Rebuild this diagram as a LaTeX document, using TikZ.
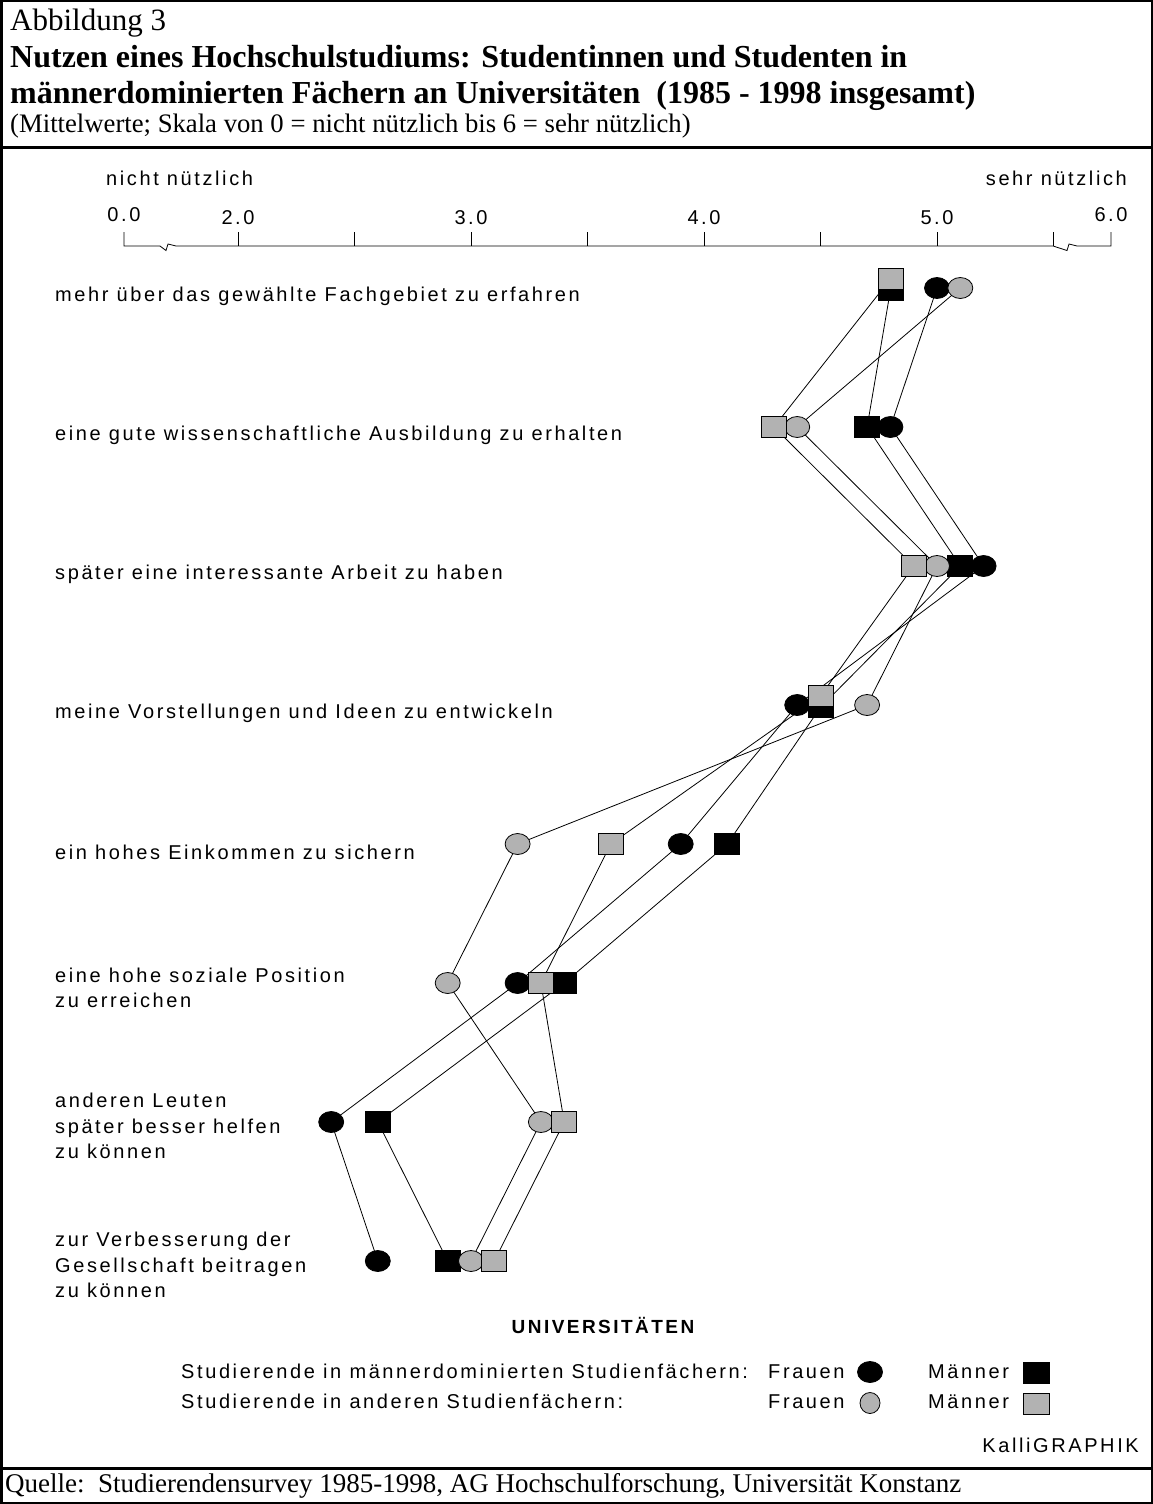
\documentclass[tikz,border=0pt]{standalone}
\usepackage{fontspec}
\setmainfont{Liberation Serif}
\newfontfamily\lblfont[LetterSpace=13]{Liberation Sans}
\usepackage{tikz}
\usetikzlibrary{shapes.geometric,backgrounds}
\definecolor{markgray}{gray}{0.7}

\tikzset{
  fem/.style={ellipse, draw, line width=0.8pt, minimum width=25pt, minimum height=21pt, inner sep=0pt},
  mal/.style={rectangle, draw, line width=0.8pt, minimum width=25pt, minimum height=21pt, inner sep=0pt},
  dom/.style={fill=black},
  oth/.style={fill=markgray},
  link/.style={line width=0.8pt},
  lbl/.style={font=\lblfont\fontsize{20}{25.5}\selectfont, anchor=west, inner sep=0pt, align=left},
  tick/.style={font=\lblfont\fontsize{20}{24}\selectfont, anchor=base, inner sep=0pt},
  head/.style={anchor=base west, inner sep=0pt}
}

\begin{document}
\begin{tikzpicture}[x=1pt,y=-1pt]
\useasboundingbox (0,0) rectangle (1153,1504);
\draw[line width=2.5pt] (1.25,1.25) rectangle (1151.75,1502.75);
\draw[line width=3pt] (0,147) -- (1153,147);
\draw[line width=3pt] (0,1468) -- (1153,1468);

\node[head, font=\fontsize{31}{36}\selectfont] (fig) at (10,31) {Abbildung 3};
\node[head, font=\fontsize{32}{36}\selectfont\bfseries] (title1) at (10,67) {Nutzen eines Hochschulstudiums: Studentinnen und Studenten in};
\node[head, font=\fontsize{32}{36}\selectfont\bfseries] (title2) at (10,103) {männerdominierten Fächern an Universitäten\ \ (1985 - 1998 insgesamt)};
\node[head, font=\fontsize{26.7}{30}\selectfont] (sub) at (10,132) {(Mittelwerte; Skala von 0 = nicht nützlich bis 6 = sehr nützlich)};
\node[head, font=\fontsize{27}{30}\selectfont] (src) at (5,1492) {Quelle:\ \ Studierendensurvey 1985-1998, AG Hochschulforschung, Universität Konstanz};

\node[tick, anchor=base west] (low) at (106,185) {nicht nützlich};
\node[tick, anchor=base east] (high) at (1127,185) {sehr nützlich};
\draw[line width=0.8pt] (124,232) -- (124,246) -- (160,246) -- (166,250.5) -- (168,244) -- (176,246) -- (1053,246) -- (1067,250.5) -- (1069,244) -- (1077,246) -- (1111,246) -- (1111,232);
\foreach \v in {2,2.5,3,3.5,4,4.5,5,5.5}
  \draw[line width=0.8pt] ({238+(\v-2)*233},232) -- ++(0,14);
\node[tick] (t0) at (124,221.5) {0.0};
\foreach \v in {2,3,4,5}
  \node[tick] (t\v) at ({238+(\v-2)*233},224.5) {\v.0};
\node[tick] (t6) at (1111,221.5) {6.0};

\node[lbl] (q1) at (55,296) {mehr über das gewählte Fachgebiet zu erfahren};
\node[lbl] (q2) at (55,435) {eine gute wissenschaftliche Ausbildung zu erhalten};
\node[lbl] (q3) at (55,574) {später eine interessante Arbeit zu haben};
\node[lbl] (q4) at (55,713) {meine Vorstellungen und Ideen zu entwickeln};
\node[lbl] (q5) at (55,852) {ein hohes Einkommen zu sichern};
\node[lbl] (q6) at (55,988) {eine hohe soziale Position\\zu erreichen};
\node[lbl] (q7) at (55,1126) {anderen Leuten\\später besser helfen\\zu können};
\node[lbl] (q8) at (55,1265) {zur Verbesserung der\\Gesellschaft beitragen\\zu können};

\foreach \r/\yy/\domf/\domm/\othf/\othm/\up in {1/288/5.0/4.8/5.1/4.8/9, 2/427/4.8/4.7/4.4/4.3/0, 3/566/5.2/5.1/5.0/4.9/0, 4/705/4.4/4.5/4.7/4.5/9, 5/844/3.9/4.1/3.2/3.6/0, 6/983/3.2/3.4/2.9/3.3/0, 7/1122/2.4/2.6/3.3/3.4/0, 8/1261/2.6/2.9/3.0/3.1/0} {
  \node[fem, dom] (domf\r) at ({238+(\domf-2)*233},\yy) {};
  \node[mal, dom] (domm\r) at ({238+(\domm-2)*233},{\yy+\up*0.25}) {};
  \node[fem, oth] (othf\r) at ({238+(\othf-2)*233},\yy) {};
  \node[mal, oth] (othm\r) at ({238+(\othm-2)*233},{\yy-\up}) {};
}
\begin{pgfonlayer}{background}
\foreach \s in {domf,domm,othf,othm}
  \draw[link] (\s1.center) -- (\s2.center) -- (\s3.center) -- (\s4.center) -- (\s5.center) -- (\s6.center) -- (\s7.center) -- (\s8.center);
\end{pgfonlayer}

\node[tick, font=\lblfont\bfseries\fontsize{19}{22}\selectfont] (uni) at (603,1333) {UNIVERSITÄTEN};
\node[tick, anchor=base west] (legdom) at (181,1378) {Studierende in männerdominierten Studienfächern:};
\node[tick, anchor=base west] (legoth) at (181,1408) {Studierende in anderen Studienfächern:};
\node[tick, anchor=base west] (fdom) at (768,1378) {Frauen};
\node[tick, anchor=base west] (foth) at (768,1408) {Frauen};
\node[tick, anchor=base west] (mdom) at (928,1378) {Männer};
\node[tick, anchor=base west] (moth) at (928,1408) {Männer};
\node[fem, dom] (kfdom) at (870,1372) {};
\node[mal, dom, minimum width=26pt] (kmdom) at (1036,1372.5) {};
\node[fem, oth, minimum width=20pt] (kfoth) at (870,1403) {};
\node[mal, oth, minimum width=26pt] (kmoth) at (1036,1403.5) {};
\node[tick, anchor=base east] (kalli) at (1139,1452) {KalliGRAPHIK};
\end{tikzpicture}
\end{document}
